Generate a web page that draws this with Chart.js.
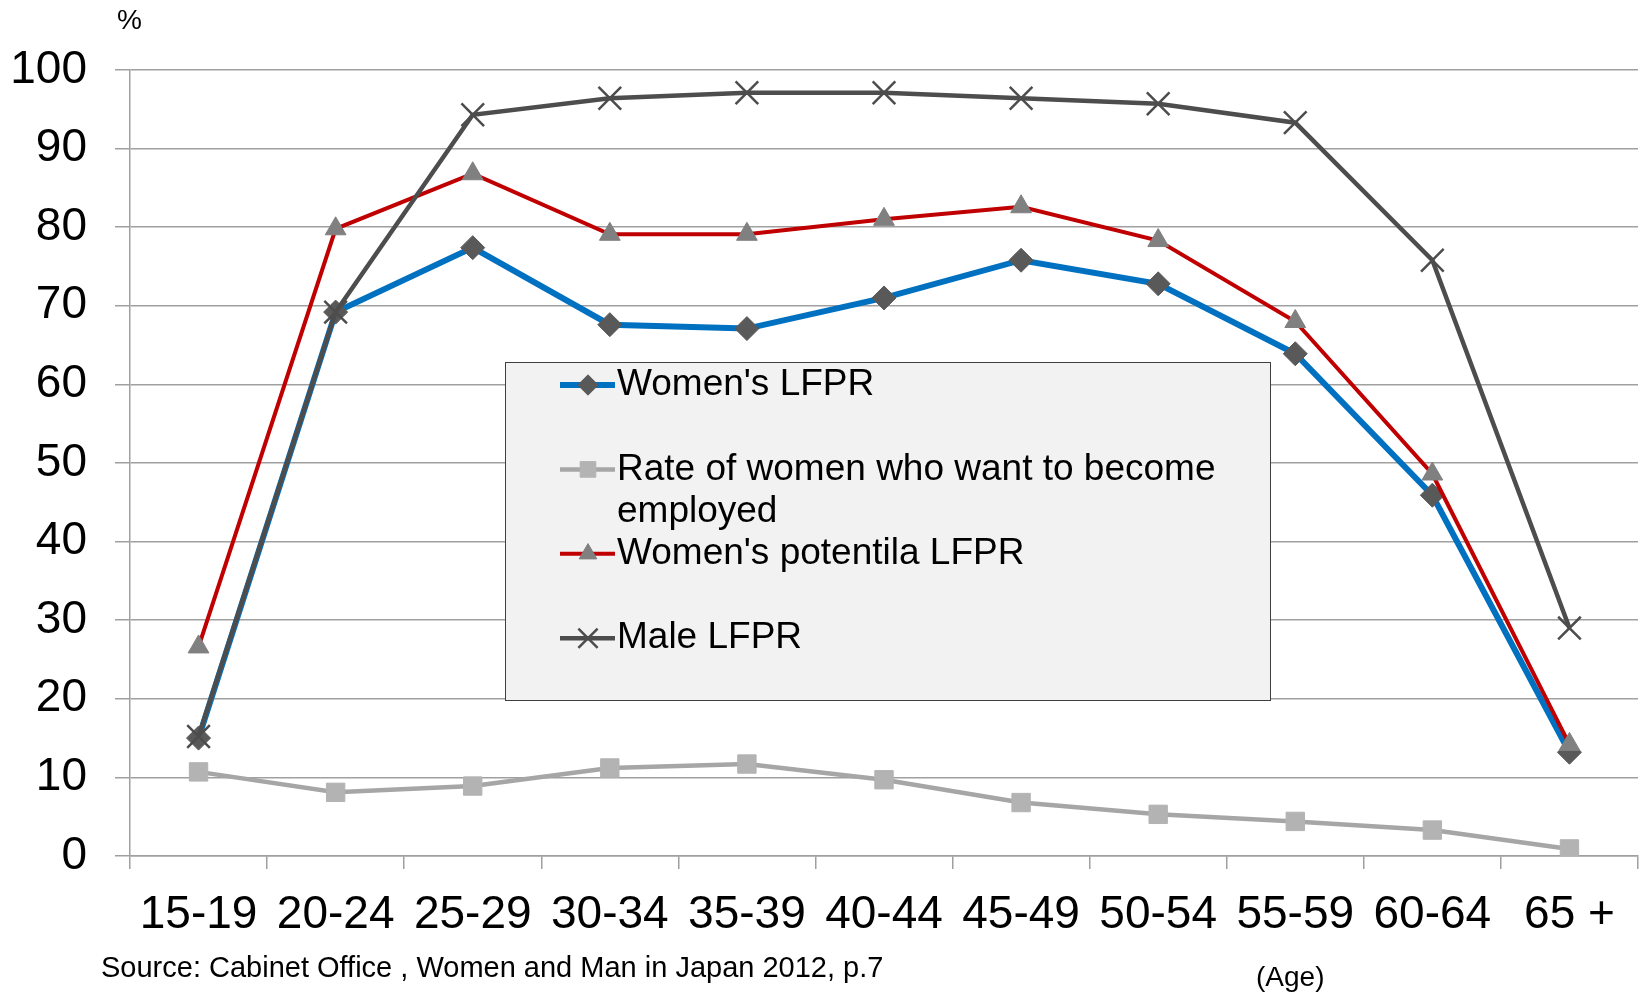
<!DOCTYPE html>
<html><head><meta charset="utf-8">
<script src="https://cdn.jsdelivr.net/npm/chart.js@4"></script>
<style>
html,body{margin:0;padding:0;background:#fff;}
#wrap{position:relative;width:1641px;height:994px;overflow:hidden;}
canvas{position:absolute;left:0;top:0;}
.t{position:absolute;font-family:"Liberation Sans",Arial,sans-serif;color:#000;white-space:nowrap;line-height:1;}
</style></head><body>
<div id="wrap"><canvas id="c" width="1641" height="994"></canvas>
<div class="t" style="left:117px;top:6px;font-size:28px">%</div>
<div class="t" style="left:101px;top:953px;font-size:29px">Source: Cabinet Office , Women and Man in Japan 2012, p.7</div>
<div class="t" style="left:1256px;top:963px;font-size:28px">(Age)</div>
</div>
<script>
const categories = ['15-19','20-24','25-29','30-34','35-39','40-44','45-49','50-54','55-59','60-64','65 +'];
const womenLFPR     = [15.0, 69.2, 77.4, 67.6, 67.1, 71.0, 75.8, 72.8, 63.9, 45.9, 13.2];
const wantEmployed  = [10.7,  8.1,  8.9, 11.2, 11.7,  9.7,  6.8,  5.3,  4.4,  3.3,  0.9];
const potentialLFPR = [26.6, 79.8, 86.8, 79.1, 79.1, 81.0, 82.6, 78.3, 68.0, 48.6, 14.2];
const maleLFPR      = [15.2, 69.2, 94.3, 96.4, 97.1, 97.1, 96.4, 95.7, 93.3, 75.8, 29.0];
const yTicks = [0,10,20,30,40,50,60,70,80,90,100];
const seriesLabels = ["Women's LFPR", "Rate of women who want to become employed", "Women's potentila LFPR", "Male LFPR"];

const FONT = '"Liberation Sans", Arial, sans-serif';

const legendPlugin = {
  id: 'boxLegend',
  afterDraw(chart) {
    const ctx = chart.ctx;
    const bx = 505, by = 362, bw = 765, bh = 338;
    ctx.save();
    ctx.fillStyle = '#F2F2F2';
    ctx.fillRect(bx, by, bw, bh);
    ctx.strokeStyle = '#404040';
    ctx.lineWidth = 1;
    ctx.strokeRect(bx + 0.5, by + 0.5, bw, bh);
    const lineH = 42.2;
    const textX = 617, lx0 = 560, lx1 = 615, mx = 588;
    ctx.font = '37px ' + FONT;
    ctx.textBaseline = 'middle';
    ctx.textAlign = 'left';
    let slot = 0;
    chart.data.datasets.forEach((ds) => {
      const y = by + 23 + slot * lineH;
      ctx.beginPath();
      ctx.strokeStyle = ds.borderColor;
      ctx.lineWidth = ds.borderWidth;
      ctx.moveTo(lx0, y); ctx.lineTo(lx1, y); ctx.stroke();
      ctx.fillStyle = ds.pointBackgroundColor;
      ctx.strokeStyle = ds.pointBorderColor;
      ctx.lineWidth = ds.pointBorderWidth;
      ctx.beginPath();
      Chart.helpers.drawPoint(ctx, {
        pointStyle: ds.pointStyle, radius: ds.pointRadius * 0.85,
        borderWidth: ds.pointBorderWidth, rotation: 0
      }, mx, y);
      const words = ds.label.split(' ');
      const lines = [];
      let cur = '';
      words.forEach(w => {
        const test = cur ? cur + ' ' + w : w;
        if (ctx.measureText(test).width > 630 && cur) { lines.push(cur); cur = w; }
        else cur = test;
      });
      lines.push(cur);
      ctx.fillStyle = '#000';
      lines.forEach((ln, i) => ctx.fillText(ln, textX, y + i * lineH));
      slot += 2;
    });
    ctx.restore();
  }
};

new Chart(document.getElementById('c'), {
  type: 'line',
  data: {
    labels: categories,
    datasets: [
      { label: seriesLabels[0], data: womenLFPR, borderColor: '#0070C0', borderWidth: 6,
        pointStyle: 'rectRot', pointRadius: 12, pointBackgroundColor: '#595959', pointBorderColor: '#595959', pointBorderWidth: 1, order: 3 },
      { label: seriesLabels[1], data: wantEmployed, borderColor: '#A6A6A6', borderWidth: 4.5,
        pointStyle: 'rect', pointRadius: 13, pointBackgroundColor: '#B3B3B3', pointBorderColor: '#B3B3B3', pointBorderWidth: 1, order: 4 },
      { label: seriesLabels[2], data: potentialLFPR, borderColor: '#C00000', borderWidth: 4,
        pointStyle: 'triangle', pointRadius: 12, pointBackgroundColor: '#808080', pointBorderColor: '#808080', pointBorderWidth: 1, order: 2 },
      { label: seriesLabels[3], data: maleLFPR, borderColor: '#4D4D4D', borderWidth: 4.5,
        pointStyle: 'crossRot', pointRadius: 16, pointBackgroundColor: '#4D4D4D', pointBorderColor: '#4D4D4D', pointBorderWidth: 2.5, order: 1 }
    ]
  },
  options: {
    responsive: false,
    animation: false,
    events: [],
    layout: { autoPadding: false, padding: { left: 10, right: 3, top: 70, bottom: 0 } },
    plugins: { legend: { display: false }, tooltip: { enabled: false } },
    elements: { line: { tension: 0 } },
    scales: {
      x: {
        type: 'category',
        offset: true,
        grid: { offset: true, drawOnChartArea: false, color: '#A0A0A0', lineWidth: 1.5, tickLength: 13 },
        border: { color: '#A0A0A0', width: 1.5 },
        ticks: { color: '#000', font: { family: FONT, size: 46 }, padding: 19, maxRotation: 0, autoSkip: false },
        afterFit(s) { s.height = 138; s.paddingLeft = 0; s.paddingRight = 0; }
      },
      y: {
        min: 0, max: 100,
        afterBuildTicks(s) { s.ticks = yTicks.map(v => ({ value: v })); },
        grid: { color: '#A0A0A0', lineWidth: 1.5, tickLength: 15 },
        border: { color: '#A0A0A0', width: 1.5 },
        ticks: { color: '#000', font: { family: FONT, size: 46 }, padding: 28 },
        afterFit(s) { s.width = 120; s.paddingTop = 0; s.paddingBottom = 0; }
      }
    }
  },
  plugins: [legendPlugin]
});
</script>
</body></html>
